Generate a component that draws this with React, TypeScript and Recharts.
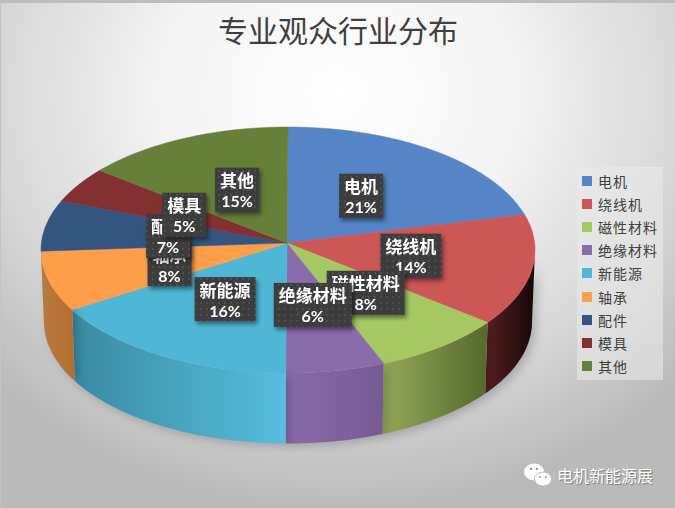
import { PieChart, Pie, Legend } from "recharts"

const NAMES = ["电机", "绕线机", "磁性材料", "绝缘材料", "新能源", "轴承", "配件", "模具", "其他"]
const VALUES = [21, 14, 8, 6, 16, 8, 7, 5, 15]
const COLORS = ["#5585c6", "#cd5656", "#a5c862", "#8a6cad", "#4fb7d5", "#ff9e4a", "#34557f", "#833030", "#667f39"]
// 侧面渐变：左 -> 右
const WALL_SHADES = [
  ["#3d608f", "#2c4668"],
  ["#5a2020", "#150808"],
  ["#93a958", "#55692d"],
  ["#8a6aac", "#775a92"],
  ["#3b8aa3", "#55bedc"],
  ["#b87a3f", "#b36f30"],
  ["#2c4668", "#2c4668"],
  ["#5c2222", "#5c2222"],
  ["#4d602b", "#4d602b"]
]

const pieData = NAMES.map((name, i) => ({ name, value: VALUES[i], fill: COLORS[i] }))

const WIDTH = 675
const HEIGHT = 508
const CX = 288
const CY = 250
const RADIUS = 247
const SQUASH = 0.498
const APEX_X = 287
const APEX_Y = 243
const DEPTH = 72

// recharts 角度 -> 从顶部顺时针的角度，再加上透视造成的偏移
function warp(angle: number) {
  const t = 90 - angle
  const rad = (t * Math.PI) / 180
  return t + 2.2 * (1 - Math.cos(rad)) - 4.2 * Math.sin(rad)
}

function rim(t: number, r = RADIUS) {
  const rad = (t * Math.PI) / 180
  return { x: CX + r * Math.sin(rad), y: CY - r * SQUASH * Math.cos(rad) }
}

function arcPoints(from: number, to: number, r = RADIUS, dy = 0) {
  const pts: string[] = []
  const steps = Math.max(2, Math.ceil(Math.abs(to - from)))
  for (let i = 0; i <= steps; i++) {
    const p = rim(from + ((to - from) * i) / steps, r)
    pts.push(`${p.x.toFixed(1)},${(p.y + dy).toFixed(1)}`)
  }
  return pts
}

function Slice3D(props: any) {
  const { startAngle, endAngle, fill, index } = props
  const t1 = warp(startAngle)
  const t2 = warp(endAngle)
  const top = `M${APEX_X},${APEX_Y} L${arcPoints(t1, t2).join(" L")} Z`
  const w1 = Math.max(t1, 90)
  const w2 = Math.min(t2, 270)
  const shades = WALL_SHADES[index] || [fill, fill]
  const gid = `wall-${index}`
  return (
    <g>
      {w2 > w1 && (
        <>
          <defs>
            <linearGradient id={gid} x1="0" x2="1" y1="0" y2="0">
              <stop offset="0%" stopColor={shades[0]} />
              <stop offset="100%" stopColor={shades[1]} />
            </linearGradient>
          </defs>
          <path
            d={`M${arcPoints(w1, w2).join(" L")} L${arcPoints(w2, w1, RADIUS - 3, DEPTH).join(" L")} Z`}
            fill={`url(#${gid})`}
            style={{ filter: "drop-shadow(4px 3px 5px rgba(0,0,0,0.2))" }}
          />
        </>
      )}
      <path d={top} fill={fill} stroke={fill} strokeWidth={0.5} />
    </g>
  )
}

function SliceLabel(props: any) {
  const { midAngle, name, percent, index } = props
  const t = (warp(midAngle) * Math.PI) / 180
  // 纵向取透视前后的平均位置
  const plain = ((90 - midAngle) * Math.PI) / 180
  const x = APEX_X + 2 + 0.5 * RADIUS * Math.sin(t)
  const y = APEX_Y + 2 - 0.5 * RADIUS * SQUASH * ((Math.cos(t) + Math.cos(plain)) / 2)
  const w = 10 + 17 * name.length
  const h = 44
  const pid = `dots-${index}`
  return (
    <g style={{ filter: "drop-shadow(2px 3px 2px rgba(0,0,0,0.45))" }}>
      <defs>
        <pattern id={pid} width={6} height={6} patternUnits="userSpaceOnUse">
          <rect width={6} height={6} fill="#3d3d3d" />
          <rect x={2} y={2} width={2} height={2} fill="#4e4e4e" />
        </pattern>
      </defs>
      <rect x={x - w / 2} y={y - h / 2} width={w} height={h} fill={`url(#${pid})`} />
      <text x={x} y={y - 10} textAnchor="middle" dominantBaseline="central" fill="#fff" fontSize={17} fontWeight={700} fontFamily="'Noto Sans CJK SC'">
        {name}
      </text>
      <text x={x} y={y + 11} textAnchor="middle" dominantBaseline="central" fill="#fff" fontSize={16} fontWeight={700} fontFamily="Lato">
        {`${Math.round(percent * 100)}%`}
      </text>
    </g>
  )
}

function LegendBox({ payload }: any) {
  return (
    <div style={{ background: "rgba(235,235,235,0.55)", padding: "2px 5px", height: 209 }}>
      {(payload || []).map((item: any) => (
        <div key={item.value} style={{ height: 23.2, display: "flex", alignItems: "center", fontSize: 14, color: "#404040", fontFamily: "'Noto Sans CJK SC'" }}>
          <span style={{ width: 10, height: 10, background: item.color || item.payload?.fill, marginRight: 6, flex: "none" }} />
          <span style={{ whiteSpace: "nowrap", letterSpacing: 1 }}>{item.value}</span>
        </div>
      ))}
    </div>
  )
}

export default function App() {
  return (
    <div
      style={{
        position: "relative",
        width: WIDTH,
        height: HEIGHT,
        overflow: "hidden",
        boxSizing: "border-box",
        borderTop: "3px solid #bdbdbd",
        borderLeft: "1px solid #c4c4c4",
        background: "radial-gradient(ellipse 70% 82% at 50% 18%, #ffffff 0%, #f3f3f3 38%, #d8d8d8 72%, #bababa 100%)"
      }}
    >
      <style>{"body{margin:0}"}</style>
      <div style={{ position: "absolute", top: 5, left: 0, width: WIDTH - 1, textAlign: "center", fontSize: 30, lineHeight: "42px", color: "#404040", fontFamily: "'Noto Sans CJK SC'" }}>
        专业观众行业分布
      </div>
      <div style={{ position: "absolute", left: -1, top: -3 }}>
        <PieChart width={WIDTH} height={HEIGHT} margin={{ top: 0, right: 0, bottom: 0, left: 0 }}>
          <Pie
            data={pieData}
            dataKey="value"
            nameKey="name"
            cx={CX}
            cy={CY}
            outerRadius={RADIUS}
            startAngle={90}
            endAngle={-270}
            stroke="none"
            shape={Slice3D}
            label={SliceLabel}
            labelLine={false}
            isAnimationActive={false}
          />
          <Legend
            layout="vertical"
            content={LegendBox}
            itemSorter={null}
            wrapperStyle={{ left: 577, top: 167, width: 86, height: 213, bottom: "auto", right: "auto" }}
          />
        </PieChart>
      </div>
      <div style={{ position: "absolute", left: 522, top: 459, display: "flex", alignItems: "center", color: "#fff", fontSize: 16, fontFamily: "'Noto Sans CJK SC'", textShadow: "1px 1px 1px rgba(0,0,0,0.35)" }}>
        <svg width={30} height={26} style={{ marginRight: 4 }}>
          <ellipse cx={11} cy={10} rx={10} ry={8.5} fill="#fff" />
          <ellipse cx={20} cy={17} rx={8.5} ry={7} fill="#fff" stroke="#bbb" strokeWidth={1} />
          <circle cx={8} cy={7} r={1.2} fill="#999" />
          <circle cx={14} cy={7} r={1.2} fill="#999" />
          <circle cx={17} cy={15} r={1} fill="#999" />
          <circle cx={23} cy={15} r={1} fill="#999" />
        </svg>
        电机新能源展
      </div>
    </div>
  )
}
